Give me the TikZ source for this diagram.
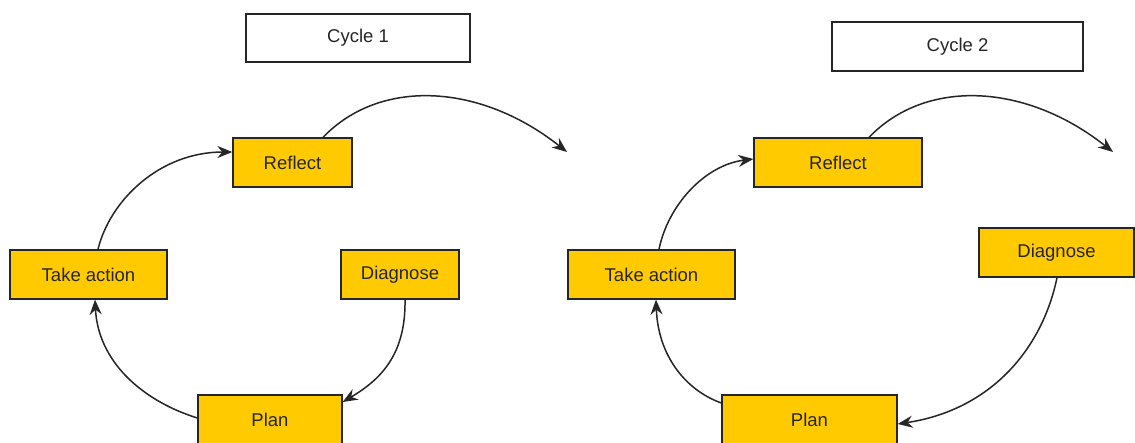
\documentclass[tikz,border=0pt]{standalone}
\usepackage{fontspec}
\setmainfont{Liberation Sans}
\usetikzlibrary{arrows.meta}
\definecolor{stepfill}{HTML}{FFCA00}
\definecolor{stepline}{HTML}{262626}
\definecolor{steptext}{HTML}{262626}
\tikzset{
  stagebox/.style={draw=stepline, line width=1.3pt, fill=stepfill, text=steptext,
    inner sep=0pt, font=\fontsize{18.5}{22}\selectfont},
  titlebox/.style={draw=stepline, line width=1.3pt, fill=white, text=steptext,
    inner sep=0pt, font=\fontsize{18.5}{22}\selectfont},
  flow/.style={draw=black!85, line width=1.5pt,
    -{Stealth[length=15pt,width=12pt,inset=5pt]}},
}
\begin{document}
\begin{tikzpicture}[x=1pt,y=-1pt]
\clip (0,0) rectangle (1135,442);
\fill[white] (0,0) rectangle (1135,442);

% ---- Cycle 1 ----
\node[titlebox, minimum width=224pt, minimum height=48pt] (c1) at (358,38) {Cycle 1};
\node[stagebox, minimum width=119pt, minimum height=49pt] (r1) at (292.5,162.5) {Reflect};
\node[stagebox, minimum width=157pt, minimum height=49pt] (t1) at (88.5,274.5) {Take action};
\node[stagebox, minimum width=118pt, minimum height=49pt] (d1) at (400,274.5) {Diagnose};
\node[stagebox, minimum width=144pt, minimum height=49pt] (p1) at (270,419.5) {Plan};
\coordinate (e1) at (567,152);

\draw[flow] ([xshift=30.5pt]r1.north) .. controls (380,78) and (480,83) .. (e1);
\draw[flow] ([xshift=9.5pt]t1.north) .. controls (110,200) and (160,152) .. ([yshift=10.5pt]r1.west);
\draw[flow] ([yshift=1.5pt]p1.west) .. controls (140,400) and (98,360) .. ([xshift=6.5pt]t1.south);
\draw[flow] ([xshift=5pt]d1.south) .. controls (406,355) and (380,380) .. ([yshift=17.5pt]p1.east);

% ---- Cycle 2 ----
\node[titlebox, minimum width=251pt, minimum height=49pt] (c2) at (957.5,46.5) {Cycle 2};
\node[stagebox, minimum width=168pt, minimum height=49pt] (r2) at (838,162.5) {Reflect};
\node[stagebox, minimum width=167pt, minimum height=49pt] (t2) at (651.5,274.5) {Take action};
\node[stagebox, minimum width=155pt, minimum height=49pt] (d2) at (1056.5,252.5) {Diagnose};
\node[stagebox, minimum width=175pt, minimum height=49pt] (p2) at (809.5,419.5) {Plan};
\coordinate (e2) at (1113,152);

\draw[flow] ([xshift=31pt]r2.north) .. controls (926,78) and (1026,83) .. (e2);
\draw[flow] ([xshift=7.5pt]t2.north) .. controls (668,205) and (705,165) .. ([yshift=3.5pt]r2.west);
\draw[flow] ([yshift=16.5pt]p2.west) .. controls (685,390) and (658,355) .. ([xshift=4.5pt]t2.south);
\draw[flow] ([xshift=0.5pt]d2.south) .. controls (1042,350) and (990,410) .. ([yshift=-4.5pt]p2.east);
\end{tikzpicture}
\end{document}
